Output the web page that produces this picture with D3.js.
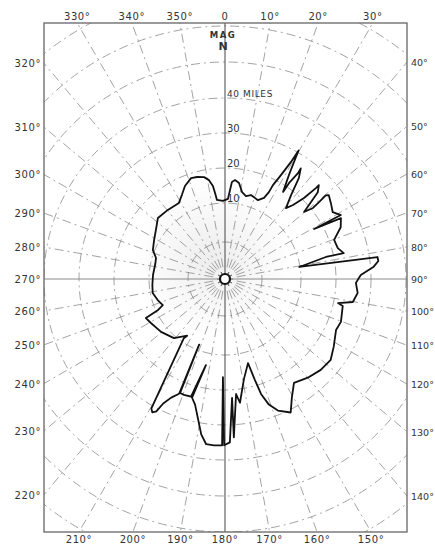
<!DOCTYPE html>
<html><head><meta charset="utf-8">
<script src="https://cdn.jsdelivr.net/npm/d3@7"></script>
<style>html,body{margin:0;padding:0;background:#fff;} svg{display:block;}</style>
</head><body>
<svg id="chart" width="435" height="545"></svg>
<script>
// ---- data ----
const azimuthTicks = d3.range(0, 360, 10);
const ringMiles = [5, 10, 20, 30, 40, 50, 60, 70, 80];
const ringLabelMiles = [10, 20, 30, 40];
const ringLabelText = ["10", "20", "30", "40 MILES"];
// coverage boundary, traced clockwise: bearing (deg, magnetic) and range (miles)
const coverageBearing = [341.4,344.7,348.4,350.8,352.6,353.4,354.2,358.5,2.1,3.2,4.1,5.8,8.3,11.1,14.2,17.2,22.7,25.7,26.8,27.05,28.3,29.4,29.8,30.2,31.6,33.7,33.7,34.6,34.4,36.2,38.2,40.7,42.6,44.3,45,45,46.9,48.2,49.7,51.1,50.7,50.3,51.1,54.4,58.2,61.1,60.7,62.3,65.9,70.3,74.7,77.7,77.7,80.8,81.8,83.3,85.4,88.3,91.7,96.0,100.2,102.0,102.9,110.3,114.7,122.0,127.4,133.5,140.0,146.4,150.6,153.8,158.1,160.75,162.6,163.5,164.7,169.3,173.1,174.5,176.8,176.6,178.3,180.3,181.2,181.0,183.8,186.5,188.7,190.8,193.4,195.5,192.5,196.1,199.5,201.5,201.5,201.8,204.4,206.4,207.4,208.6,209.65,214.8,213.7,220.8,230.4,239.3,243.7,245.2,247.25,252.6,259.0,265.3,273.2,282.1,286.9,291.9,298.8,305.4,312.3,320.4,328.8,332.9,336.7];
const coverageMiles = [18.7,18.5,18.0,16.9,15.1,13.0,11.0,10.6,11.2,13.7,16.1,16.7,16.0,13.6,12.7,13.4,12.7,14.0,16.1,18.4,22.0,26.6,30.6,28.5,23.1,18.2,21.2,25.0,26.6,24.0,18.8,15.0,17.0,20.6,25.0,26.2,24.6,21.2,17.9,20.6,23.0,25.7,26.4,25.5,24.5,26.1,17.5,25.7,24.5,21.4,21.7,23.0,17.8,9.9,32.3,32.4,30.8,27.1,25.7,26.4,25.4,21.3,22.8,23.6,23.2,24.9,26.3,26.0,25.1,23.9,27.2,30.8,28.8,26.3,22.7,18.4,13.2,17.4,23.9,21.3,33.6,22.3,35.0,35.8,16.3,35.8,35.9,35.8,33.2,29.2,25.2,23.5,13.5,23.3,23.4,23.3,9.3,23.6,25.5,28.0,30.9,31.7,30.8,9.5,9.0,10.6,12.0,12.9,13.5,9.7,8.9,9.3,9.7,9.6,9.5,9.4,9.5,10.5,11.4,12.5,14.2,13.9,13.7,15.3,17.2];

// ---- layout ----
const frame = {left: 44, right: 407, top: 23, bottom: 532};
const cx = 225, cy = 279;
const r = d3.scaleLinear()
  .domain([0, 5, 10, 20, 30, 40, 50, 60, 70, 80])
  .range([0, 37, 76, 111, 146, 181, 217, 253, 289, 325]);

const svg = d3.select("#chart");
const defs = svg.append("defs");
defs.append("clipPath").attr("id", "fr").append("rect")
  .attr("x", frame.left).attr("y", frame.top)
  .attr("width", frame.right - frame.left).attr("height", frame.bottom - frame.top);
const grad = defs.append("radialGradient").attr("id", "smudge");
grad.append("stop").attr("offset", "0%").attr("stop-color", "#000").attr("stop-opacity", 0.07);
grad.append("stop").attr("offset", "100%").attr("stop-color", "#000").attr("stop-opacity", 0);

const g = svg.append("g").attr("clip-path", "url(#fr)");
const pc = g.append("g").attr("transform", `translate(${cx},${cy})`);

// faint smudge around radar site
pc.append("circle").attr("cx", -12).attr("cy", -20).attr("r", 80).attr("fill", "url(#smudge)");

const rad = a => a * Math.PI / 180;
const dash = "9,4,2,4";

// range rings
pc.selectAll("circle.ring").data(ringMiles).join("circle")
  .attr("class", "ring").attr("r", d => r(d))
  .attr("fill", "none").attr("stroke", "#8c8c8c").attr("stroke-width", 0.8)
  .attr("stroke-dasharray", dash);

// radial lines
const cardinal = [0, 90, 180, 270];
pc.selectAll("line.rad").data(azimuthTicks.filter(a => !cardinal.includes(a))).join("line")
  .attr("class", "rad")
  .attr("x1", d => Math.sin(rad(d)) * 12).attr("y1", d => -Math.cos(rad(d)) * 12)
  .attr("x2", d => Math.sin(rad(d)) * 420).attr("y2", d => -Math.cos(rad(d)) * 420)
  .attr("stroke", "#8c8c8c").attr("stroke-width", 0.8).attr("stroke-dasharray", dash);
pc.selectAll("line.card").data(cardinal).join("line")
  .attr("class", "card")
  .attr("x1", d => Math.sin(rad(d)) * 8).attr("y1", d => -Math.cos(rad(d)) * 8)
  .attr("x2", d => Math.sin(rad(d)) * 420).attr("y2", d => -Math.cos(rad(d)) * 420)
  .attr("stroke", d => (d === 0 || d === 180) ? "#555" : "#8a8a8a")
  .attr("stroke-width", 1.1);

// coverage outline
const pts = coverageBearing.map((b, i) => ({b, m: coverageMiles[i]}));
const line = d3.lineRadial().angle(d => rad(d.b)).radius(d => r(d.m)).curve(d3.curveLinearClosed);
pc.append("path").attr("d", line(pts)).attr("fill", "none")
  .attr("stroke", "#111").attr("stroke-width", 1.8).attr("stroke-linejoin", "round");

// radar site marker
pc.selectAll("line.spk").data(d3.range(0, 360, 30)).join("line")
  .attr("x1", d => Math.sin(rad(d)) * 5).attr("y1", d => -Math.cos(rad(d)) * 5)
  .attr("x2", d => Math.sin(rad(d)) * 8).attr("y2", d => -Math.cos(rad(d)) * 8)
  .attr("stroke", "#444").attr("stroke-width", 1);
pc.append("circle").attr("r", 5).attr("fill", "#fff").attr("stroke", "#111").attr("stroke-width", 2.2);

// frame
svg.append("rect").attr("x", frame.left).attr("y", frame.top)
  .attr("width", frame.right - frame.left).attr("height", frame.bottom - frame.top)
  .attr("fill", "none").attr("stroke", "#666").attr("stroke-width", 1.3);

// ring labels
const font = "DejaVu Sans, Verdana, sans-serif";
svg.selectAll("text.rl").data(ringLabelMiles).join("text")
  .attr("class", "rl")
  .attr("x", cx + 2).attr("y", d => cy - r(d) - 1)
  .attr("font-family", font).attr("font-size", (d, i) => i === 3 ? 9 : 10)
  .attr("letter-spacing", (d, i) => i === 3 ? 0.6 : 0)
  .attr("fill", "#333").text((d, i) => ringLabelText[i]);

// MAG N
svg.append("text").attr("x", cx - 2).attr("y", 38).attr("text-anchor", "middle")
  .attr("font-family", font).attr("font-size", 8.5).attr("font-weight", "bold")
  .attr("letter-spacing", 1.5).attr("fill", "#333").text("MAG");
svg.append("text").attr("x", cx - 2).attr("y", 50).attr("text-anchor", "middle")
  .attr("font-family", font).attr("font-size", 11).attr("font-weight", "bold")
  .attr("fill", "#333").text("N");

// azimuth labels where each radial meets the frame
function hit(a) {
  const dx = Math.sin(rad(a)), dy = -Math.cos(rad(a));
  const ts = [];
  if (dx > 1e-9) ts.push({t: (frame.right - cx) / dx, side: "right"});
  if (dx < -1e-9) ts.push({t: (frame.left - cx) / dx, side: "left"});
  if (dy > 1e-9) ts.push({t: (frame.bottom - cy) / dy, side: "bottom"});
  if (dy < -1e-9) ts.push({t: (frame.top - cy) / dy, side: "top"});
  const h = ts.reduce((p, q) => q.t < p.t ? q : p);
  return {x: cx + dx * h.t, y: cy + dy * h.t, side: h.side};
}
svg.selectAll("text.az").data(azimuthTicks).join("text")
  .attr("class", "az")
  .each(function(a) {
    const h = hit(a), s = d3.select(this);
    s.attr("font-size", 10).attr("letter-spacing", 0.6);
    if (h.side === "top") s.attr("x", h.x).attr("y", 20).attr("text-anchor", "middle");
    else if (h.side === "bottom") s.attr("x", h.x).attr("y", 543).attr("text-anchor", "middle");
    else if (h.side === "right") s.attr("x", frame.right + 4).attr("y", h.y + 4)
      .attr("text-anchor", "start").attr("font-size", 9.5).attr("letter-spacing", 0);
    else s.attr("x", frame.left - 3).attr("y", h.y + 4).attr("text-anchor", "end");
  })
  .attr("font-family", font)
  .attr("fill", "#333")
  .text(a => a === 0 ? "0" : a + "°");
</script>
</body></html>
